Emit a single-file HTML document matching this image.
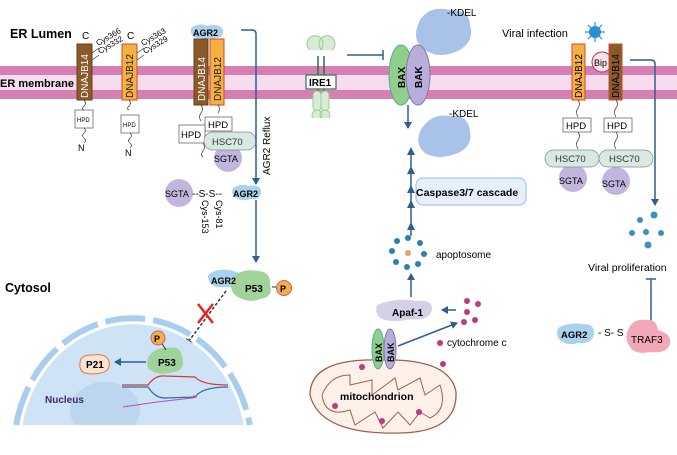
<!DOCTYPE html>
<html><head><meta charset="utf-8"><style>
html,body{margin:0;padding:0;background:#fff;width:677px;height:455px;overflow:hidden;}
svg{display:block;font-family:"Liberation Sans",sans-serif;}
.b{font-weight:bold;}
</style></head><body>
<svg width="677" height="455" viewBox="0 0 677 455" xmlns="http://www.w3.org/2000/svg">
<defs>
<marker id="ar" markerWidth="8" markerHeight="8" refX="6" refY="4" orient="auto" markerUnits="userSpaceOnUse"><path d="M0,0 L7,4 L0,8 z" fill="#2e5f8f"/></marker>
<marker id="ad" markerWidth="8" markerHeight="8" refX="6" refY="4" orient="auto" markerUnits="userSpaceOnUse"><path d="M0,0 L7,4 L0,8 z" fill="#333"/></marker>
</defs>
<rect x="0" y="66" width="677" height="33" fill="#d67fb2"/>
<rect x="0" y="75" width="677" height="15" fill="#f6dcec"/>
<text x="10" y="38" font-size="12.5" class="b">ER Lumen</text>
<text x="0" y="87" font-size="11" class="b">ER membrane</text>
<text x="5" y="292" font-size="12.5" class="b">Cytosol</text>

<text x="82" y="39" font-size="10">C</text>
<rect x="77" y="44" width="15" height="56" fill="#8b5a2b" stroke="#6a3f1a"/>
<text transform="translate(88,98) rotate(-90)" font-size="10" fill="#fff">DNAJB14</text>
<path d="M92,53 L99,48 M92,60 L99,55" stroke="#333" stroke-width="0.6"/>
<text transform="translate(98,46) rotate(-30)" font-size="8">Cys366</text>
<text transform="translate(100,54) rotate(-30)" font-size="8">Cys332</text>
<path d="M84,100 q3,3 0,6 q-3,3 0,4" fill="none" stroke="#333" stroke-width="0.7"/>
<rect x="75" y="110" width="18" height="18" fill="#fff" stroke="#555" stroke-width="0.7"/>
<text x="77" y="122" font-size="6">HPD</text>
<path d="M84,128 q3,3 0,5 q-3,3 0,5 q3,3 0,5" fill="none" stroke="#333" stroke-width="0.7"/>
<text x="78" y="151" font-size="9">N</text>
<text x="127" y="39" font-size="10">C</text>
<rect x="122" y="44" width="15" height="56" fill="#f4b040" stroke="#d04a2a"/>
<text transform="translate(133,98) rotate(-90)" font-size="10" fill="#222">DNAJB12</text>
<path d="M137,53 L144,48 M137,60 L144,55" stroke="#333" stroke-width="0.6"/>
<text transform="translate(143,46) rotate(-30)" font-size="8">Cys363</text>
<text transform="translate(145,54) rotate(-30)" font-size="8">Cys329</text>
<path d="M129,100 q3,3 0,6 q-3,3 0,4" fill="none" stroke="#333" stroke-width="0.7"/>
<rect x="121" y="115" width="18" height="18" fill="#fff" stroke="#555" stroke-width="0.7"/>
<text x="123" y="127" font-size="6">HPD</text>
<path d="M130,133 q3,3 0,5 q-3,3 0,5 q3,3 0,5" fill="none" stroke="#333" stroke-width="0.7"/>
<text x="125" y="156" font-size="9">N</text>

<path d="M191,28 q8,-6 16,-2 q10,-3 15,2 q3,6 -2,9 q-10,3 -20,1 q-10,1 -9,-10z" fill="#a9d3ec"/>
<text x="193" y="36" font-size="9" class="b">AGR2</text>
<rect x="194" y="39" width="14" height="66" fill="#8b5a2b" stroke="#6a3f1a"/>
<text transform="translate(205,101) rotate(-90)" font-size="10" fill="#fff">DNAJB14</text>
<rect x="210" y="39" width="14" height="66" fill="#f4b040" stroke="#d04a2a"/>
<text transform="translate(221,101) rotate(-90)" font-size="10" fill="#222">DNAJB12</text>
<path d="M201,105 q3,4 0,8 q-3,4 0,8" fill="none" stroke="#333" stroke-width="0.7"/>
<path d="M218,105 q3,4 0,8" fill="none" stroke="#333" stroke-width="0.7"/>
<circle cx="228" cy="158" r="14" fill="#c2b6df"/>
<text x="214" y="162" font-size="9">SGTA</text>
<rect x="205" y="117" width="27" height="14" fill="#fff" stroke="#555" stroke-width="0.7"/>
<text x="208" y="128" font-size="9.5">HPD</text>
<rect x="179" y="125" width="26" height="18" fill="#fff" stroke="#555" stroke-width="0.7"/>
<text x="181" y="138" font-size="9.5">HPD</text>
<rect x="204" y="132" width="52" height="18" rx="9" fill="#d7e9e1" stroke="#889" stroke-width="0.7"/>
<text x="212" y="145" font-size="9.5" fill="#333">HSC70</text>
<path d="M203,143 q3,4 0,8 q-3,4 0,6" fill="none" stroke="#333" stroke-width="0.7"/>
<path d="M241,30 L252,30 Q256,30 256,34 L256,184" fill="none" stroke="#2e5f8f" stroke-width="1.5" marker-end="url(#ar)"/>
<text transform="translate(270,175) rotate(-90)" font-size="10">AGR2 Reflux</text>
<circle cx="179" cy="193" r="14" fill="#c2b6df"/>
<text x="165" y="197" font-size="9">SGTA</text>
<text x="192" y="197" font-size="10">--S-S--</text>
<path d="M233,188 q8,-5 16,-2 q12,-2 12,6 q0,8 -10,7 q-8,3 -14,-1 q-7,-3 -4,-10z" fill="#a9d3ec"/>
<text x="233" y="197" font-size="9" class="b">AGR2</text>
<text transform="translate(202,200) rotate(90)" font-size="9">Cys-153</text>
<text transform="translate(216,200) rotate(90)" font-size="9">Cys-81</text>
<line x1="256" y1="200" x2="256" y2="262" stroke="#2e5f8f" stroke-width="1.5" marker-end="url(#ar)"/>
<path d="M208,275 q10,-8 25,-4 q10,2 10,10 q-5,8 -20,6 q-15,1 -15,-12z" fill="#a9d3ec"/>
<path d="M232,278 q10,-10 25,-7 q14,0 13,14 q4,12 -10,14 q-10,4 -20,-1 q-12,-5 -8,-20z" fill="#9fd39a"/>
<text x="211" y="284" font-size="9" class="b">AGR2</text>
<text x="245" y="292" font-size="10" class="b">P53</text>
<line x1="272" y1="287" x2="278" y2="287" stroke="#333"/>
<circle cx="284" cy="288" r="7.5" fill="#f4b040" stroke="#c45a8a"/>
<text x="280" y="292" font-size="9" class="b">P</text>
<line x1="226" y1="291" x2="186" y2="345" stroke="#333" stroke-width="1.5" stroke-dasharray="3,2" marker-end="url(#ad)"/>
<path d="M198,304 L213,323 M213,304 L198,323" stroke="#f02020" stroke-width="2.5"/>

<path d="M22.3,425 A113,126 0 0 1 243.7,425 Z" fill="#cfe3f6"/>
<path d="M16.2,425 A119,132 0 0 1 249.8,425" fill="none" stroke="#a9cdee" stroke-width="6" stroke-dasharray="40,8"/>
<path d="M75.5,425 A35,28 0 1 1 134.5,425 Z" fill="#bcd6f0"/>
<path d="M80,363 q0,-8 12,-8 q14,-2 17,6 q2,10 -8,12 q-10,2 -16,0 q-6,-2 -5,-10z" fill="#fbe2d2" stroke="#e07b40"/>
<text x="86" y="368" font-size="10" class="b">P21</text>
<line x1="146" y1="362" x2="115" y2="362" stroke="#2e5f8f" stroke-width="1.5" marker-end="url(#ar)"/>
<path d="M148,358 q5,-10 18,-10 q14,-3 16,8 q4,14 -8,16 q-14,4 -22,-1 q-7,-3 -4,-13z" fill="#9fd39a"/>
<text x="158" y="366" font-size="10" class="b">P53</text>
<line x1="161" y1="342" x2="166" y2="350" stroke="#333"/>
<circle cx="158" cy="338" r="7" fill="#f4b040" stroke="#c45a8a"/>
<text x="154" y="342" font-size="9" class="b">P</text>
<path d="M122,385 L148,385 Q155,375 165,376 L195,377 Q202,385 228,385" fill="none" stroke="#d03a3a" stroke-width="1.2"/>
<path d="M122,387 L148,387 Q155,398 165,398 L195,397 Q202,387 228,387" fill="none" stroke="#2e6f9f" stroke-width="1.2"/>
<path d="M123,407 q30,-5 60,-8 q20,-2 10,-3" fill="none" stroke="#b050b0" stroke-width="1"/>
<text x="45" y="403" font-size="10" class="b" fill="#3b2a6b">Nucleus</text>

<path d="M310,50 a8,8 0 1 1 10,0 M322,50 a8,8 0 1 1 10,0" fill="#d7ecd3" stroke="#9c9" />
<line x1="318" y1="56" x2="318" y2="95" stroke="#2e6f3f" stroke-width="1.5"/>
<line x1="324" y1="56" x2="324" y2="95" stroke="#2e6f3f" stroke-width="1.5"/>
<rect x="306" y="75" width="30" height="14" fill="#fff" stroke="#2e6f5f" stroke-width="1.2"/>
<text x="309" y="86" font-size="10" class="b">IRE1</text>
<rect x="313" y="91" width="8" height="20" rx="4" fill="#d7ecd3" stroke="#9c9"/>
<rect x="321" y="91" width="8" height="20" rx="4" fill="#d7ecd3" stroke="#9c9"/>
<path d="M313,118 a5,5 0 1 1 8,0 M321,118 a5,5 0 1 1 8,0" fill="#d7ecd3" stroke="#9c9"/>
<line x1="347" y1="55" x2="383" y2="55" stroke="#2e5f8f" stroke-width="1.5"/>
<line x1="383" y1="50" x2="383" y2="60" stroke="#2e5f8f" stroke-width="1.5"/>
<path d="M420,20 q10,-15 30,-10 q20,0 20,15 q5,15 -10,25 q-20,10 -35,0 q-15,-10 -5,-30z" fill="#a9c2ea"/>
<text x="447" y="16" font-size="10">-KDEL</text>
<ellipse cx="401" cy="75" rx="12" ry="30" fill="#8fcf8a" stroke="#5a9"/>
<ellipse cx="418" cy="75" rx="12" ry="30" fill="#b7aede" stroke="#879"/>
<text transform="translate(405,88) rotate(-90)" font-size="10" class="b">BAX</text>
<text transform="translate(422,88) rotate(-90)" font-size="10" class="b">BAK</text>
<line x1="408" y1="105" x2="408" y2="128" stroke="#2e5f8f" stroke-width="1.5" marker-end="url(#ar)"/>
<path d="M422,128 q10,-15 28,-12 q18,-2 20,15 q3,15 -12,22 q-20,8 -33,0 q-12,-10 -3,-25z" fill="#a9c2ea"/>
<text x="449" y="117" font-size="10">-KDEL</text>
<line x1="411" y1="236" x2="411" y2="150" stroke="#2e5f8f" stroke-width="1.5"/>
<g fill="#2e5f8f">
<path d="M407,155 L411,147 L415,155z"/><path d="M407,174 L411,166 L415,174z"/><path d="M407,193 L411,185 L415,193z"/><path d="M407,208 L411,200 L415,208z"/><path d="M407,230 L411,222 L415,230z"/>
</g>
<rect x="416" y="178" width="110" height="27" rx="7" fill="#e6f0fb" stroke="#9bbbe0"/>
<text x="416" y="196" font-size="10.5" class="b">Caspase3/7 cascade</text>
<g fill="#2a7fb5">
<circle cx="408" cy="238" r="3"/><circle cx="420" cy="243" r="3"/><circle cx="424" cy="254" r="3"/><circle cx="418" cy="264" r="3"/><circle cx="407" cy="267" r="3"/><circle cx="396" cy="262" r="3"/><circle cx="392" cy="251" r="3"/><circle cx="397" cy="241" r="3"/>
</g>
<circle cx="408" cy="253" r="3" fill="#e8a070"/>
<text x="436" y="258" font-size="10">apoptosome</text>
<line x1="411" y1="297" x2="411" y2="274" stroke="#2e5f8f" stroke-width="1.5" marker-end="url(#ar)"/>
<path d="M377,305 q20,-8 40,-4 q15,-2 15,8 q-2,12 -20,10 q-20,4 -30,0 q-8,-5 -5,-14z" fill="#d4d0ea"/>
<text x="392" y="316" font-size="10" class="b">Apaf-1</text>
<line x1="456" y1="310" x2="442" y2="310" stroke="#2e5f8f" stroke-width="1.5" marker-end="url(#ar)"/>
<g fill="#c0397a">
<circle cx="467" cy="301" r="3"/><circle cx="478" cy="304" r="3"/><circle cx="467" cy="312" r="3"/><circle cx="464" cy="322" r="3"/><circle cx="475" cy="320" r="3"/><circle cx="440" cy="343" r="3"/>
</g>
<line x1="398" y1="346" x2="457" y2="323" stroke="#2e5f8f" stroke-width="1.5" marker-end="url(#ar)"/>
<text x="447" y="346" font-size="10">cytochrome c</text>
<path d="M310,395 Q310,358 380,360 Q450,358 456,392 Q458,432 400,433 Q320,435 310,395z" fill="#fdf1ea" stroke="#a0604a" stroke-width="1.3"/>
<path d="M322,395 Q330,375 350,375 L350,385 L372,380 L372,395 L395,378 L398,390 L420,378 L425,395 L440,385 Q448,410 430,418 L420,412 L410,425 L398,412 L383,428 L375,412 L355,425 L350,410 Q325,418 322,395z" fill="none" stroke="#a0604a" stroke-width="1"/>
<g fill="#c0397a"><circle cx="362" cy="367" r="3"/><circle cx="443" cy="364" r="3"/><circle cx="419" cy="412" r="3"/><circle cx="382" cy="421" r="3"/><circle cx="335" cy="406" r="3"/></g>
<text x="340" y="400" font-size="10.5" class="b">mitochondrion</text>
<ellipse cx="378" cy="349" rx="6" ry="20" fill="#8fcf8a" stroke="#5a9"/>
<ellipse cx="390" cy="349" rx="6" ry="20" fill="#b7aede" stroke="#879"/>
<text transform="translate(382,362) rotate(-90)" font-size="9" class="b">BAX</text>
<text transform="translate(394,362) rotate(-90)" font-size="9" class="b">BAK</text>

<text x="502" y="37" font-size="11">Viral infection</text>
<g stroke="#2a8fd0" stroke-width="1.2"><line x1="595" y1="22" x2="595" y2="42"/><line x1="585" y1="32" x2="605" y2="32"/><line x1="588" y1="25" x2="602" y2="39"/><line x1="602" y1="25" x2="588" y2="39"/></g>
<circle cx="595" cy="32" r="6" fill="#2a8fd0"/>
<rect x="572" y="44" width="13" height="56" fill="#f4b040" stroke="#d04a2a"/>
<text transform="translate(582,98) rotate(-90)" font-size="10">DNAJB12</text>
<circle cx="602" cy="62" r="10" fill="#fbe2ec" stroke="#b03060"/>
<text x="594" y="66" font-size="9">Bip</text>
<rect x="609" y="44" width="13" height="56" fill="#8b5a2b" stroke="#d04a2a"/>
<text transform="translate(619,98) rotate(-90)" font-size="10">DNAJB14</text>
<path d="M630,60 L651,60 Q655,60 655,64 L655,205" fill="none" stroke="#2e5f8f" stroke-width="1.5" marker-end="url(#ar)"/>
<path d="M578,100 q3,4 0,8 q-3,4 0,9 M616,100 q3,4 0,8 q-3,4 0,9" fill="none" stroke="#333" stroke-width="0.7"/>
<rect x="563" y="118" width="28" height="14" fill="#fff" stroke="#555" stroke-width="0.7"/>
<text x="566" y="129" font-size="9.5">HPD</text>
<rect x="604" y="118" width="28" height="14" fill="#fff" stroke="#555" stroke-width="0.7"/>
<text x="607" y="129" font-size="9.5">HPD</text>
<path d="M578,132 q3,4 0,8 q-3,4 0,9 M616,132 q3,4 0,8 q-3,4 0,9" fill="none" stroke="#333" stroke-width="0.7"/>
<circle cx="573" cy="178" r="14" fill="#c2b6df"/>
<circle cx="616" cy="181" r="14" fill="#c2b6df"/>
<rect x="545" y="150" width="54" height="17" rx="8.5" fill="#d7e9e1" stroke="#889" stroke-width="0.7"/>
<rect x="599" y="150" width="54" height="17" rx="8.5" fill="#d7e9e1" stroke="#889" stroke-width="0.7"/>
<text x="555" y="162" font-size="9.5" fill="#333">HSC70</text>
<text x="609" y="162" font-size="9.5" fill="#333">HSC70</text>
<text x="559" y="184" font-size="9">SGTA</text>
<text x="602" y="187" font-size="9">SGTA</text>
<g fill="#3a8fc8">
<circle cx="640" cy="220" r="3"/><circle cx="654" cy="215" r="3.5"/><circle cx="632" cy="233" r="3"/><circle cx="646" cy="232" r="3"/><circle cx="661" cy="233" r="3"/><circle cx="648" cy="245" r="3.5"/>
</g>
<text x="588" y="271" font-size="10.5">Viral proliferation</text>
<line x1="651" y1="320" x2="651" y2="279" stroke="#2e5f8f" stroke-width="1.5"/>
<line x1="646" y1="279" x2="656" y2="279" stroke="#2e5f8f" stroke-width="1.5"/>
<path d="M558,328 q10,-6 25,-4 q12,0 11,10 q-2,10 -15,9 q-12,3 -18,-2 q-6,-5 -3,-13z" fill="#a9d3ec"/>
<text x="561" y="338" font-size="9.5" class="b">AGR2</text>
<text x="598" y="336" font-size="10">- S- S -</text>
<path d="M628,330 q5,-12 18,-10 q10,-2 12,10 q14,4 12,14 q-3,10 -20,8 q-15,3 -20,-5 q-6,-8 -2,-17z" fill="#f2a8b6"/>
<text x="631" y="343" font-size="10">TRAF3</text>
</svg>
</body></html>
